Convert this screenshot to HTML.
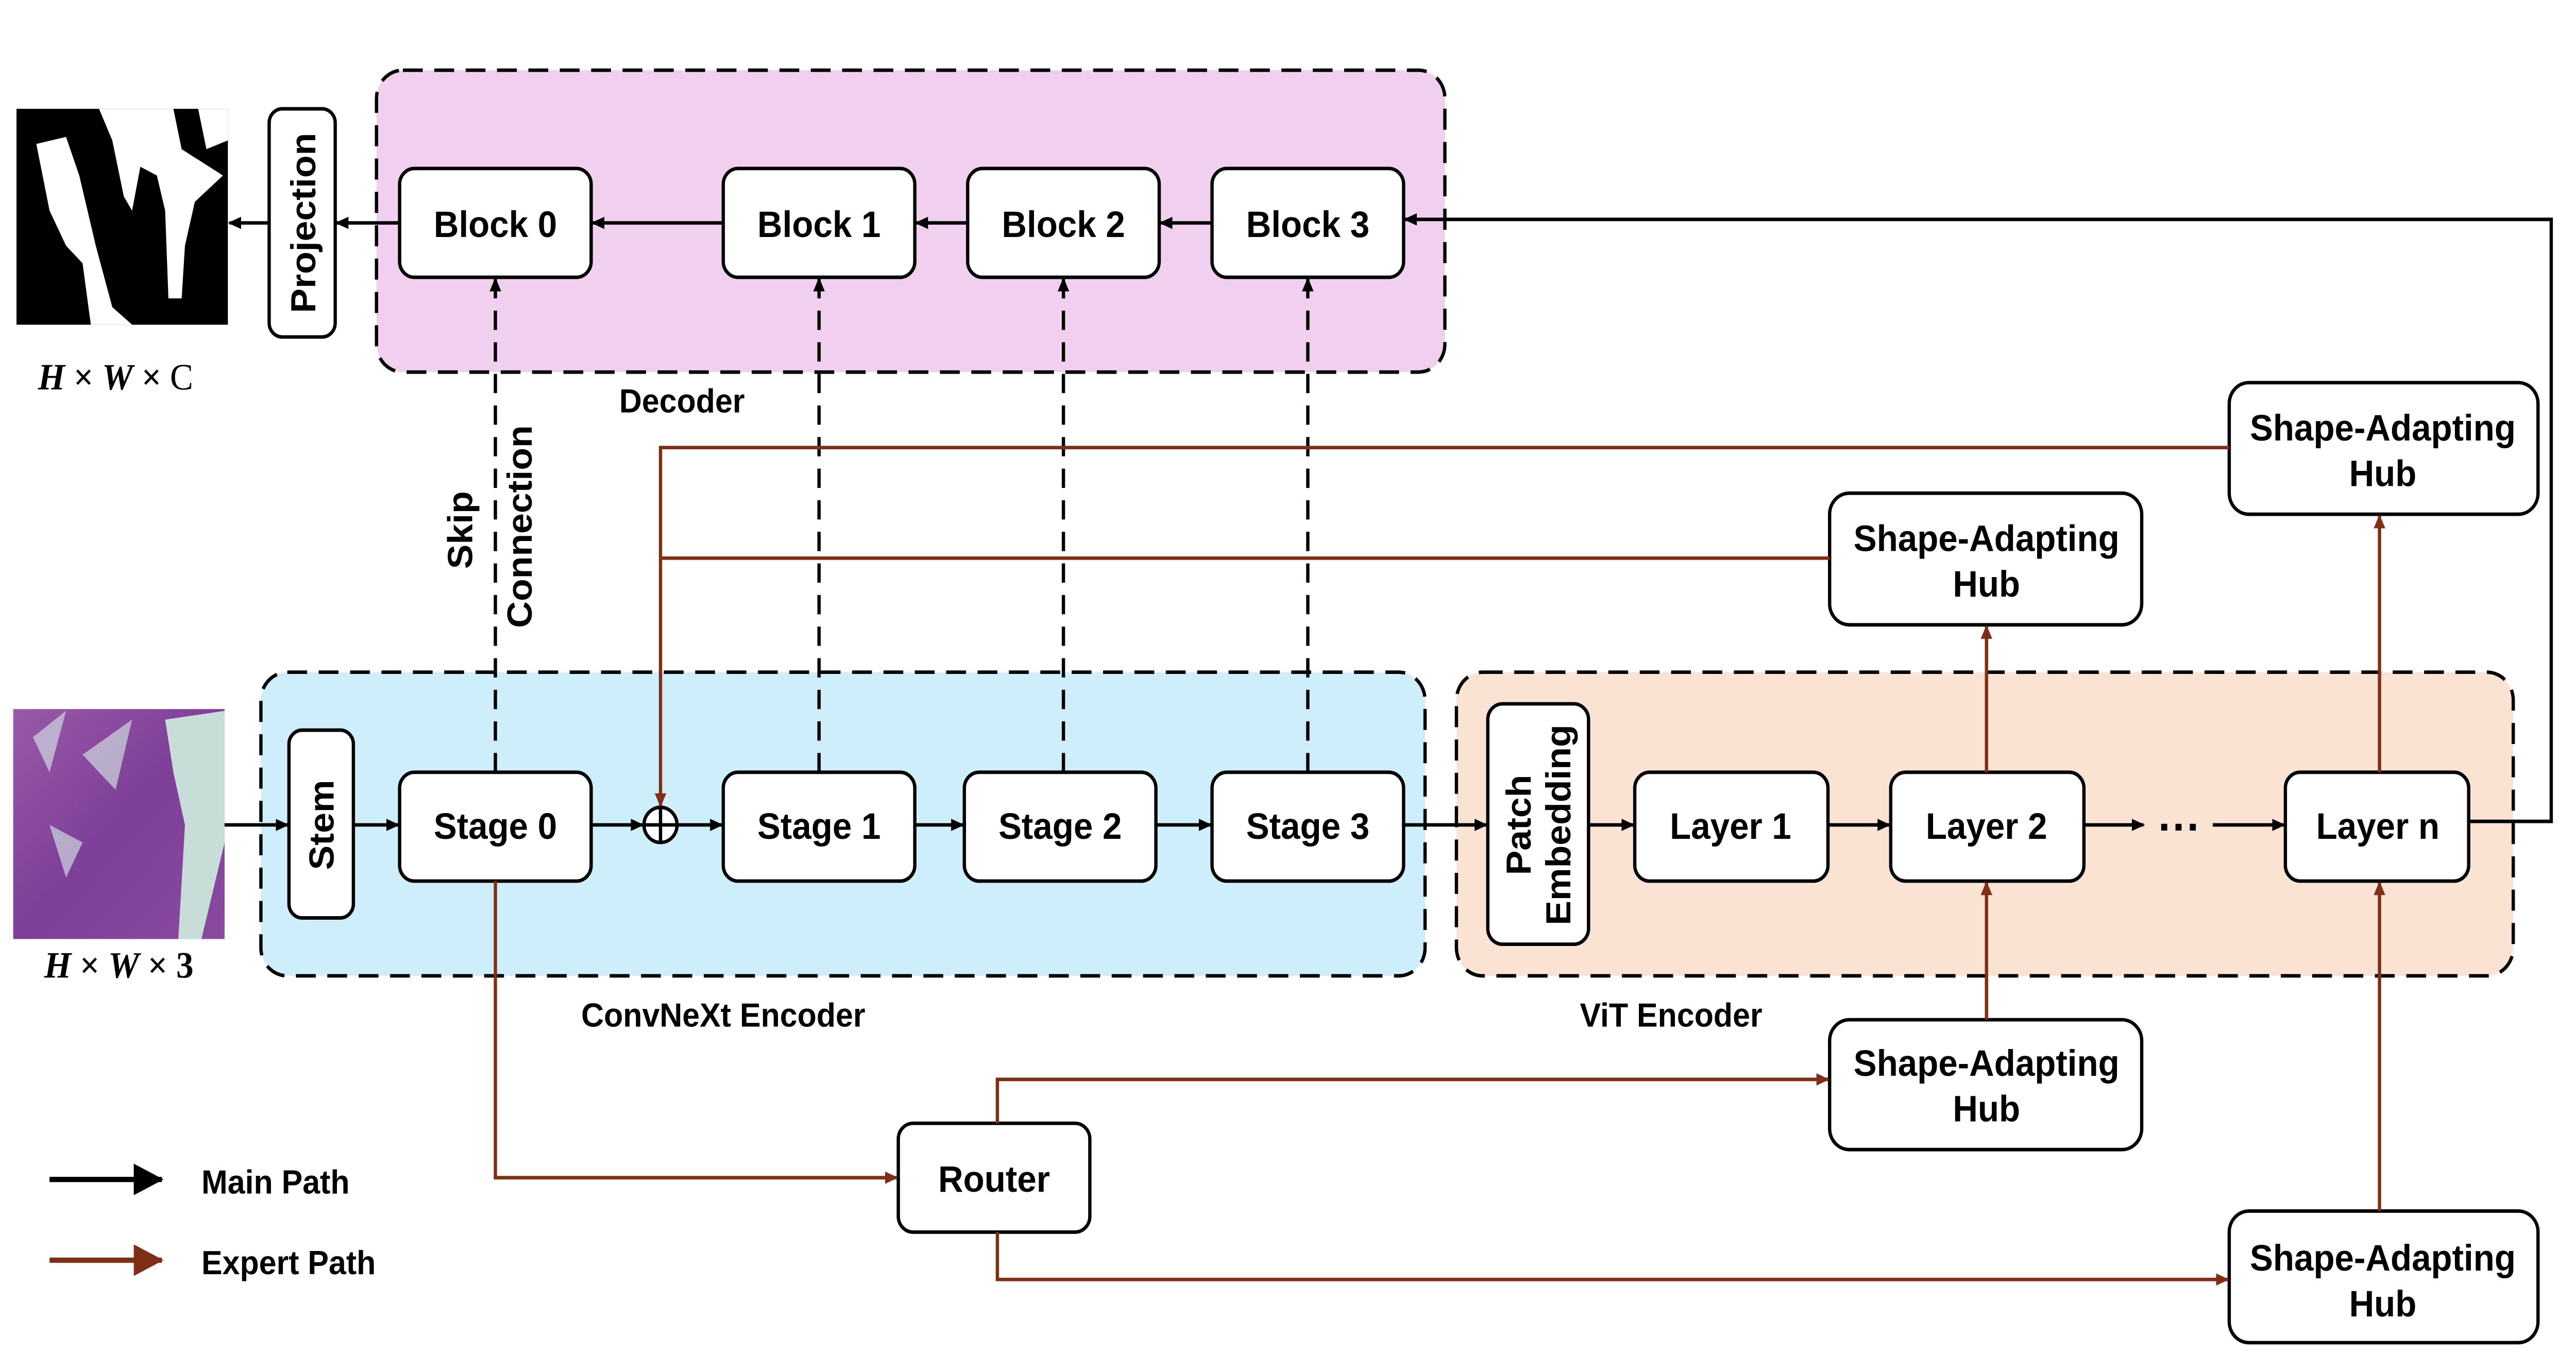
<!DOCTYPE html>
<html><head><meta charset="utf-8"><style>html,body{margin:0;padding:0;background:#fff;width:100%;height:100%;overflow:hidden}svg{display:block;position:absolute;left:0;top:0;width:100vw;height:100vh}</style></head>
<body>
<svg viewBox="0 0 1560 780" preserveAspectRatio="none" xmlns="http://www.w3.org/2000/svg" font-family="Liberation Sans, Arial, sans-serif" font-weight="bold">
<defs>
<marker id="ab" markerWidth="8" markerHeight="8" refX="7" refY="4" orient="auto" markerUnits="userSpaceOnUse"><path d="M0,0.5 L8,4 L0,7.5 Z" fill="#000"/></marker>
<marker id="ar" markerWidth="8" markerHeight="8" refX="7" refY="4" orient="auto" markerUnits="userSpaceOnUse"><path d="M0,0.5 L8,4 L0,7.5 Z" fill="#7f2f16"/></marker>
<marker id="abig" markerWidth="18" markerHeight="18" refX="17" refY="9" orient="auto" markerUnits="userSpaceOnUse"><path d="M0,0 L18,9 L0,18 Z" fill="#000"/></marker>
<marker id="arbig" markerWidth="18" markerHeight="18" refX="17" refY="9" orient="auto" markerUnits="userSpaceOnUse"><path d="M0,0 L18,9 L0,18 Z" fill="#7f2f16"/></marker>
<linearGradient id="hist" x1="0" y1="0" x2="1" y2="1"><stop offset="0" stop-color="#9a5aa8"/><stop offset="0.5" stop-color="#7d3f98"/><stop offset="1" stop-color="#8a4aa0"/></linearGradient>
</defs>
<rect x="228" y="40" width="647" height="172" rx="16" fill="#f0d0ee" stroke="#000" stroke-width="2" stroke-dasharray="12,7"/>
<rect x="158" y="383" width="705" height="173" rx="16" fill="#cdeefa" stroke="#000" stroke-width="2" stroke-dasharray="12,7"/>
<rect x="882" y="383" width="640" height="173" rx="16" fill="#fbe3d3" stroke="#000" stroke-width="2" stroke-dasharray="12,7"/>

<rect x="10" y="62" width="128" height="123" fill="#000"/>
<path d="M22,82 L40,78 L48,100 L58,140 L68,175 L80,185 L55,185 L50,150 L40,140 L30,120 Z" fill="#fff"/>
<path d="M60,62 L105,62 L110,85 L135,100 L118,115 L112,140 L110,170 L102,170 L100,120 L95,100 L85,95 L80,120 L75,112 L68,80 Z" fill="#fff"/>
<path d="M120,62 L138,62 L138,80 L125,85 Z" fill="#fff"/>
<rect x="8" y="404" width="128" height="131" fill="url(#hist)"/>
<path d="M100,410 L136,405 L136,480 L122,535 L108,535 L112,470 L105,440 Z" fill="#c9ddd8"/>
<path d="M20,420 L40,405 L30,440 Z M50,430 L80,410 L70,450 Z M30,470 L50,480 L40,500 Z" fill="#cfd8e0" opacity="0.7"/>

<text x="70" y="222" font-family="Liberation Serif, serif" font-size="21" text-anchor="middle"><tspan font-style="italic">H</tspan> × <tspan font-style="italic">W</tspan> × <tspan font-weight="normal">C</tspan></text>
<text x="72" y="557" font-family="Liberation Serif, serif" font-size="21" text-anchor="middle"><tspan font-style="italic">H</tspan> × <tspan font-style="italic">W</tspan> × 3</text>

<g stroke="#000" stroke-width="2" fill="#fff">
<rect x="163" y="62" width="40" height="130" rx="8"/>
<rect x="242" y="96" width="116" height="62" rx="9"/>
<rect x="438" y="96" width="116" height="62" rx="9"/>
<rect x="586" y="96" width="116" height="62" rx="9"/>
<rect x="734" y="96" width="116" height="62" rx="9"/>
<rect x="175" y="416" width="39" height="107" rx="8"/>
<rect x="242" y="440" width="116" height="62" rx="9"/>
<rect x="438" y="440" width="116" height="62" rx="9"/>
<rect x="584" y="440" width="116" height="62" rx="9"/>
<rect x="734" y="440" width="116" height="62" rx="9"/>
<rect x="901" y="401" width="61" height="137" rx="9"/>
<rect x="990" y="440" width="117" height="62" rx="9"/>
<rect x="1145" y="440" width="117" height="62" rx="9"/>
<rect x="1384" y="440" width="111" height="62" rx="9"/>
<rect x="1350" y="218" width="187" height="75" rx="12"/>
<rect x="1108" y="281" width="189" height="75" rx="12"/>
<rect x="1108" y="581" width="189" height="74" rx="12"/>
<rect x="1350" y="690" width="187" height="75" rx="12"/>
<rect x="544" y="640" width="116" height="62" rx="9"/>
<circle cx="400" cy="470" r="10"/>
</g>
<path d="M390,470 H410 M400,460 V480" stroke="#000" stroke-width="2"/>

<g stroke="#000" stroke-width="2" fill="none" marker-end="url(#ab)">
<path d="M136,470 H174"/><path d="M214,470 H241"/><path d="M358,470 H389"/><path d="M410,470 H437"/>
<path d="M554,470 H583"/><path d="M700,470 H733"/><path d="M850,470 H900"/><path d="M962,470 H989"/>
<path d="M1107,470 H1144"/><path d="M1262,470 H1298"/><path d="M1340,470 H1383"/>
<path d="M1495,468 H1545 V125 H851"/>
<path d="M734,127 H703"/><path d="M586,127 H555"/><path d="M438,127 H359"/><path d="M242,127 H204"/><path d="M163,127 H139"/>
</g>
<g stroke="#000" stroke-width="2" fill="none" stroke-dasharray="11,7" marker-end="url(#ab)">
<path d="M300,440 V159"/><path d="M496,440 V159"/><path d="M644,440 V159"/><path d="M792,440 V159"/>
</g>
<text x="1320" y="480" font-size="26" text-anchor="middle">···</text>

<g stroke="#7f2f16" stroke-width="2" fill="none" marker-end="url(#ar)">
<path d="M300,502 V671 H543"/>
<path d="M604,640 V615 H1107"/>
<path d="M604,702 V729 H1349"/>
<path d="M1203,581 V503"/>
<path d="M1441,690 V503"/>
<path d="M1203,440 V357"/>
<path d="M1441,440 V294"/>
<path d="M1350,255 H400 V459"/>
</g>
<path d="M1108,318 H400" stroke="#7f2f16" stroke-width="2"/>

<g font-size="21" text-anchor="middle" fill="#000">
<text x="300" y="135">Block 0</text><text x="496" y="135">Block 1</text><text x="644" y="135">Block 2</text><text x="792" y="135">Block 3</text>
<text x="300" y="478">Stage 0</text><text x="496" y="478">Stage 1</text><text x="642" y="478">Stage 2</text><text x="792" y="478">Stage 3</text>
<text x="1048" y="478">Layer 1</text><text x="1203" y="478">Layer 2</text><text x="1440" y="478">Layer n</text>
<text x="602" y="679">Router</text>
<text x="1443" y="251">Shape-Adapting</text><text x="1443" y="277">Hub</text>
<text x="1203" y="314">Shape-Adapting</text><text x="1203" y="340">Hub</text>
<text x="1203" y="613">Shape-Adapting</text><text x="1203" y="639">Hub</text>
<text x="1443" y="724">Shape-Adapting</text><text x="1443" y="750">Hub</text>
<text x="413" y="235" font-size="19">Decoder</text>
<text x="438" y="585" font-size="19">ConvNeXt Encoder</text>
<text x="1012" y="585" font-size="19">ViT Encoder</text>
<text transform="translate(191,127) rotate(-90)">Projection</text>
<text transform="translate(202,470) rotate(-90)">Stem</text>
<text transform="translate(927,470) rotate(-90)">Patch</text>
<text transform="translate(951,470) rotate(-90)">Embedding</text>
<text transform="translate(286,302) rotate(-90)">Skip</text>
<text transform="translate(322,300) rotate(-90)">Connection</text>
</g>

<path d="M30,672 H98" stroke="#000" stroke-width="3" marker-end="url(#abig)"/>
<path d="M30,718 H98" stroke="#7f2f16" stroke-width="3" marker-end="url(#arbig)"/>
<text x="122" y="680" font-size="19">Main Path</text>
<text x="122" y="726" font-size="19">Expert Path</text>
</svg>
</body></html>
